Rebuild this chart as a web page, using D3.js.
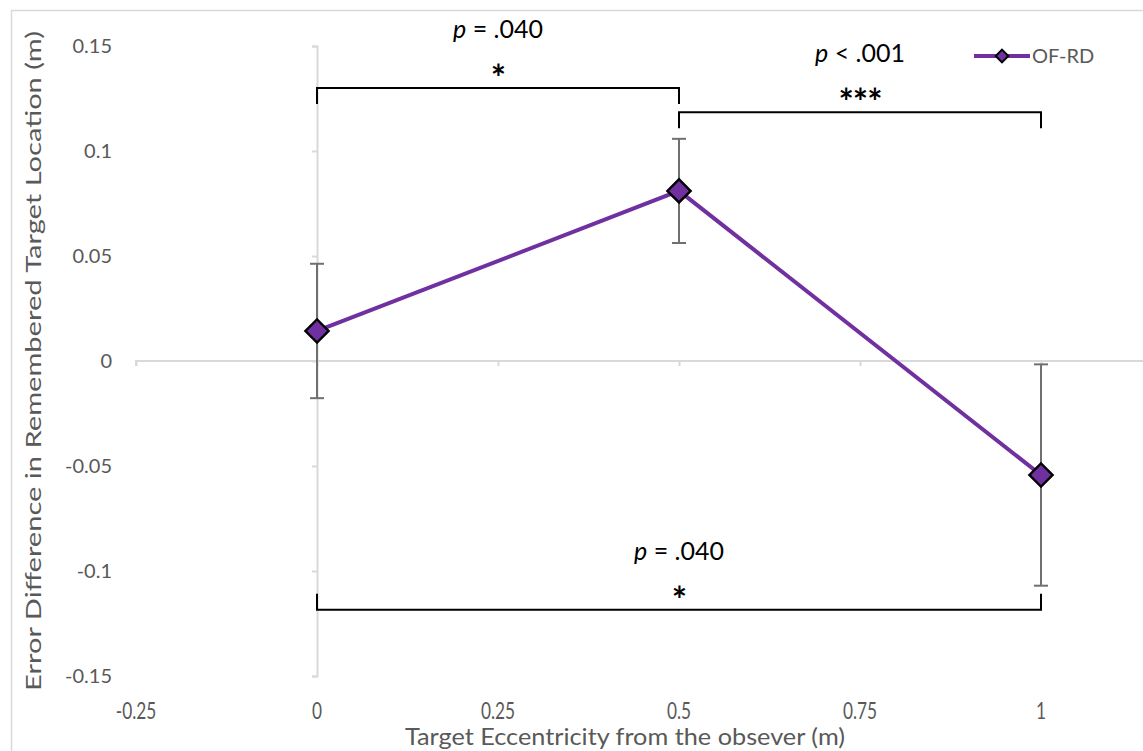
<!DOCTYPE html>
<html>
<head>
<meta charset="utf-8">
<script src="https://cdn.jsdelivr.net/npm/d3@7"></script>
<style>
  html, body { margin: 0; padding: 0; background: #fff; }
  svg { display: block; }
  text { font-family: Lato, "Open Sans", sans-serif; }
</style>
</head>
<body>
<svg id="chart" width="1143" height="751"></svg>
<script>
// ---- data ----
const xValues = [0, 0.5, 1];
const yValues = [0.0143, 0.081, -0.0543];
const yErrors = [0.032, 0.0248, 0.0527];
const seriesName = "OF-RD";
const xTicks = [-0.25, 0, 0.25, 0.5, 0.75, 1];
const yTicks = [-0.15, -0.1, -0.05, 0, 0.05, 0.1, 0.15];
const xTickLabels = ["-0.25", "0", "0.25", "0.5", "0.75", "1"];
const yTickLabels = ["-0.15", "-0.1", "-0.05", "0", "0.05", "0.1", "0.15"];
const brackets = [
  { from: 0, to: 0.5, level: 0.130, dir: -1, p: "= .040", stars: "*" },
  { from: 0.5, to: 1, level: 0.1185, dir: -1, p: "< .001", stars: "***" },
  { from: 0, to: 1, level: -0.1185, dir: 1, p: "= .040", stars: "*" }
];

const svg = d3.select("#chart");
const x = d3.scaleLinear().domain([-0.25, 1.25]).range([136, 1222]);
const y = d3.scaleLinear().domain([-0.15, 0.15]).range([676, 46]);

const purple = "#7030A0";
const gray = "#595959";

// chart border
svg.append("path").attr("d", "M11.5,751 V10.5 H1143")
  .attr("fill", "none").attr("stroke", "#d9d9d9").attr("stroke-width", 1.5);

// x axis at y=0 (line + ticks, labels at bottom)
const xAxisG = svg.append("g").attr("transform", `translate(0,${y(0)})`)
  .call(d3.axisBottom(x).tickValues(xTicks).tickSize(5).tickFormat(""));
xAxisG.select(".domain").attr("d", `M${x(-0.25)},5V0H1143`).attr("stroke", "#d9d9d9").attr("stroke-width", 2);
xAxisG.selectAll(".tick line").attr("stroke", "#d9d9d9").attr("stroke-width", 2);

// x tick labels at bottom
svg.append("g").selectAll("text").data(xTicks).join("text")
  .attr("x", d => x(d)).attr("y", 719)
  .attr("text-anchor", "middle")
  .attr("fill", gray).attr("font-size", 24)
  .attr("transform", d => `translate(${x(d)},0) scale(0.72,1) translate(${-x(d)},0)`)
  .text((d, i) => xTickLabels[i]);

// y axis at x=0
const yAxisG = svg.append("g").attr("transform", `translate(${x(0)},0)`)
  .call(d3.axisLeft(y).tickValues(yTicks).tickSize(5).tickFormat(""));
yAxisG.select(".domain").attr("stroke", "#d9d9d9").attr("stroke-width", 2);
yAxisG.selectAll(".tick line").attr("stroke", "#d9d9d9").attr("stroke-width", 2);

// y tick labels at left
svg.append("g").selectAll("text").data(yTicks).join("text")
  .attr("x", 112).attr("y", d => y(d) + 7)
  .attr("text-anchor", "end")
  .attr("fill", gray).attr("font-size", 20)
  .text((d, i) => yTickLabels[i]);

// axis titles
svg.append("text")
  .attr("x", 625).attr("y", 745)
  .attr("text-anchor", "middle").attr("fill", gray).attr("font-size", 24)
  .attr("textLength", 440).attr("lengthAdjust", "spacingAndGlyphs")
  .text("Target Eccentricity from the obsever (m)");
svg.append("text")
  .attr("transform", "translate(41,361) rotate(-90)")
  .attr("text-anchor", "middle").attr("fill", gray).attr("font-size", 22)
  .attr("textLength", 660).attr("lengthAdjust", "spacingAndGlyphs")
  .text("Error Difference in Remembered Target Location (m)");

// error bars
const eg = svg.append("g");
xValues.forEach((xv, i) => {
  const top = y(yValues[i] + yErrors[i]), bot = y(yValues[i] - yErrors[i]);
  eg.append("line").attr("x1", x(xv)).attr("x2", x(xv)).attr("y1", top).attr("y2", bot)
    .attr("stroke", "#707070").attr("stroke-width", 2);
  [top, bot].forEach(v => eg.append("line").attr("x1", x(xv) - 7).attr("x2", x(xv) + 7)
    .attr("y1", v).attr("y2", v).attr("stroke", "#707070").attr("stroke-width", 2));
});

// line
const pts = xValues.map((d, i) => [d, yValues[i]]);
svg.append("path").datum(pts)
  .attr("d", d3.line().x(d => x(d[0])).y(d => y(d[1])))
  .attr("fill", "none").attr("stroke", purple).attr("stroke-width", 4);

// markers
svg.append("g").selectAll("path").data(pts).join("path")
  .attr("transform", d => `translate(${x(d[0])},${y(d[1])}) rotate(45)`)
  .attr("d", d3.symbol().type(d3.symbolSquare).size(270))
  .attr("fill", purple).attr("stroke", "#000").attr("stroke-width", 2.4);

// significance brackets
const bg = svg.append("g");
brackets.forEach(b => {
  const yl = y(b.level), x1 = x(b.from), x2 = x(b.to), h = 16 * (b.dir === -1 ? 1 : -1);
  bg.append("path").attr("d", `M${x1},${yl + h}V${yl}H${x2}V${yl + h}`)
    .attr("fill", "none").attr("stroke", "#000").attr("stroke-width", 2);
  const cx = (x1 + x2) / 2;
  const pt = bg.append("text").attr("x", cx).attr("y", yl - 50)
    .attr("text-anchor", "middle").attr("font-size", 25).attr("fill", "#000");
  pt.append("tspan").attr("font-style", "italic").text("p");
  pt.append("tspan").text(" " + b.p);
  bg.append("text").attr("x", cx).attr("y", yl + 3)
    .attr("text-anchor", "middle").attr("font-size", 36).attr("font-weight", "bold")
    .attr("letter-spacing", -1)
    .attr("fill", "#000").text(b.stars);
});

// legend
const lg = svg.append("g");
lg.append("line").attr("x1", 974).attr("x2", 1030).attr("y1", 56).attr("y2", 56)
  .attr("stroke", purple).attr("stroke-width", 4);
lg.append("path").attr("transform", "translate(1002,56) rotate(45)")
  .attr("d", d3.symbol().type(d3.symbolSquare).size(80))
  .attr("fill", purple).attr("stroke", "#000").attr("stroke-width", 2);
lg.append("text").attr("x", 1032).attr("y", 63).attr("fill", gray).attr("font-size", 20)
  .text(seriesName);
</script>
</body>
</html>
